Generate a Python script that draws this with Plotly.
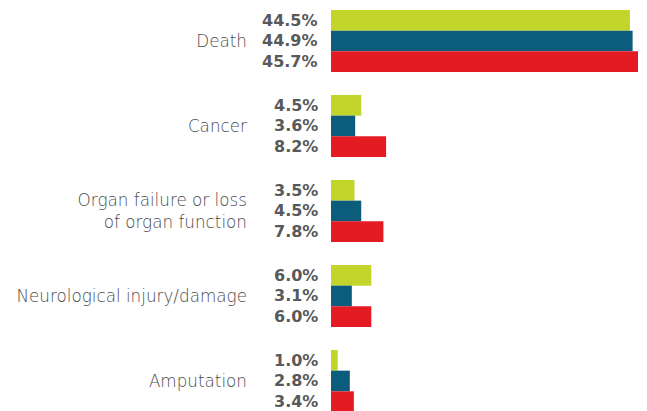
import plotly.graph_objects as go

categories = ["Death", "Cancer", "Organ failure or loss<br>of organ function",
              "Neurological injury/damage", "Amputation"]
series_a = [44.5, 4.5, 3.5, 6.0, 1.0]   # lime
series_b = [44.9, 3.6, 4.5, 3.1, 2.8]   # teal
series_c = [45.7, 8.2, 7.8, 6.0, 3.4]   # red
series = [series_a, series_b, series_c]
colors = ["#C3D52B", "#0C5C7B", "#E41B23"]

BARGAP = 0.27
ypos = list(range(len(categories)))

fig = go.Figure()
for vals, col in zip(series, colors):
    fig.add_trace(go.Bar(x=vals, y=ypos, orientation="h", marker_color=col,
                         marker_line_width=0, showlegend=False, hoverinfo="skip"))

w = (1 - BARGAP) / len(series)
annotations = []
for k, vals in enumerate(series):
    off = (k - (len(series) - 1) / 2) * w
    for i, v in enumerate(vals):
        annotations.append(dict(
            x=0, y=i + off, xref="x", yref="y", text=f"{v:.1f}%",
            showarrow=False, xanchor="right", yanchor="middle", xshift=-11,
            font=dict(family="DejaVu Sans", size=16, color="#58595B", weight="bold")))

fig.update_layout(
    width=639, height=403,
    margin=dict(l=323, r=0, t=0, b=0),
    plot_bgcolor="white", paper_bgcolor="white",
    barmode="group", bargap=BARGAP, bargroupgap=0,
    xaxis=dict(range=[0, 47.04], visible=False, fixedrange=True),
    yaxis=dict(range=[4.353, -0.388], tickvals=ypos, ticktext=categories,
               showgrid=False, zeroline=False, showline=False, ticks="",
               ticklabelstandoff=83,
               tickfont=dict(family="DejaVu Sans", size=16.8, color="#4A4B4D", weight=300)),
    annotations=annotations,
)

fig.write_html("out.html")
